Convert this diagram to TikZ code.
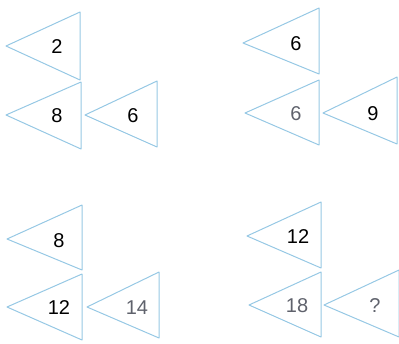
\documentclass[tikz,border=0pt]{standalone}
\usepackage{fontspec}
\setmainfont{Liberation Sans}
\usepackage{xcolor}
\definecolor{TriBlue}{RGB}{150,200,228}
\definecolor{NumGray}{RGB}{95,98,108}

\begin{document}
\begin{tikzpicture}[x=1pt, y=-1pt, tri/.style={draw=TriBlue, line width=1pt, line join=round}, every node/.style={font=\fontsize{20}{20}\selectfont}]
\useasboundingbox (0,0) rectangle (399,343);
% top left
\draw[tri] (80,12) -- (6,46) -- (80,80) -- cycle;
\draw[tri] (81,82) -- (6,115) -- (81,149) -- cycle;
\draw[tri] (157,81) -- (85,115) -- (157,147) -- cycle;
\node (tl1) at (57,47) {2};
\node (tl2) at (57,116) {8};
\node (tl3) at (133,116) {6};
% top right
\draw[tri] (319,8) -- (243,43) -- (319,74) -- cycle;
\draw[tri] (319,80) -- (245,113) -- (319,145) -- cycle;
\draw[tri] (397,77) -- (323,113) -- (397,144) -- cycle;
\node (tr1) at (296,44) {6};
\node[text=NumGray] (tr2) at (296,114) {6};
\node (tr3) at (373,114) {9};
% bottom left
\draw[tri] (82,205) -- (7,239) -- (82,270) -- cycle;
\draw[tri] (82,274) -- (7,307) -- (82,340) -- cycle;
\draw[tri] (159,272) -- (87,307) -- (159,338) -- cycle;
\node (bl1) at (59,241) {8};
\node (bl2) at (59,308) {12};
\node[text=NumGray] (bl3) at (137,308) {14};
% bottom right
\draw[tri] (321,202) -- (247,236) -- (321,268) -- cycle;
\draw[tri] (321,272) -- (249,305) -- (321,337) -- cycle;
\draw[tri] (399,270) -- (324,305) -- (399,337) -- cycle;
\node (br1) at (298,237) {12};
\node[text=NumGray] (br2) at (297,306) {18};
\node[text=NumGray] (br3) at (375,306) {?};
\end{tikzpicture}
\end{document}
